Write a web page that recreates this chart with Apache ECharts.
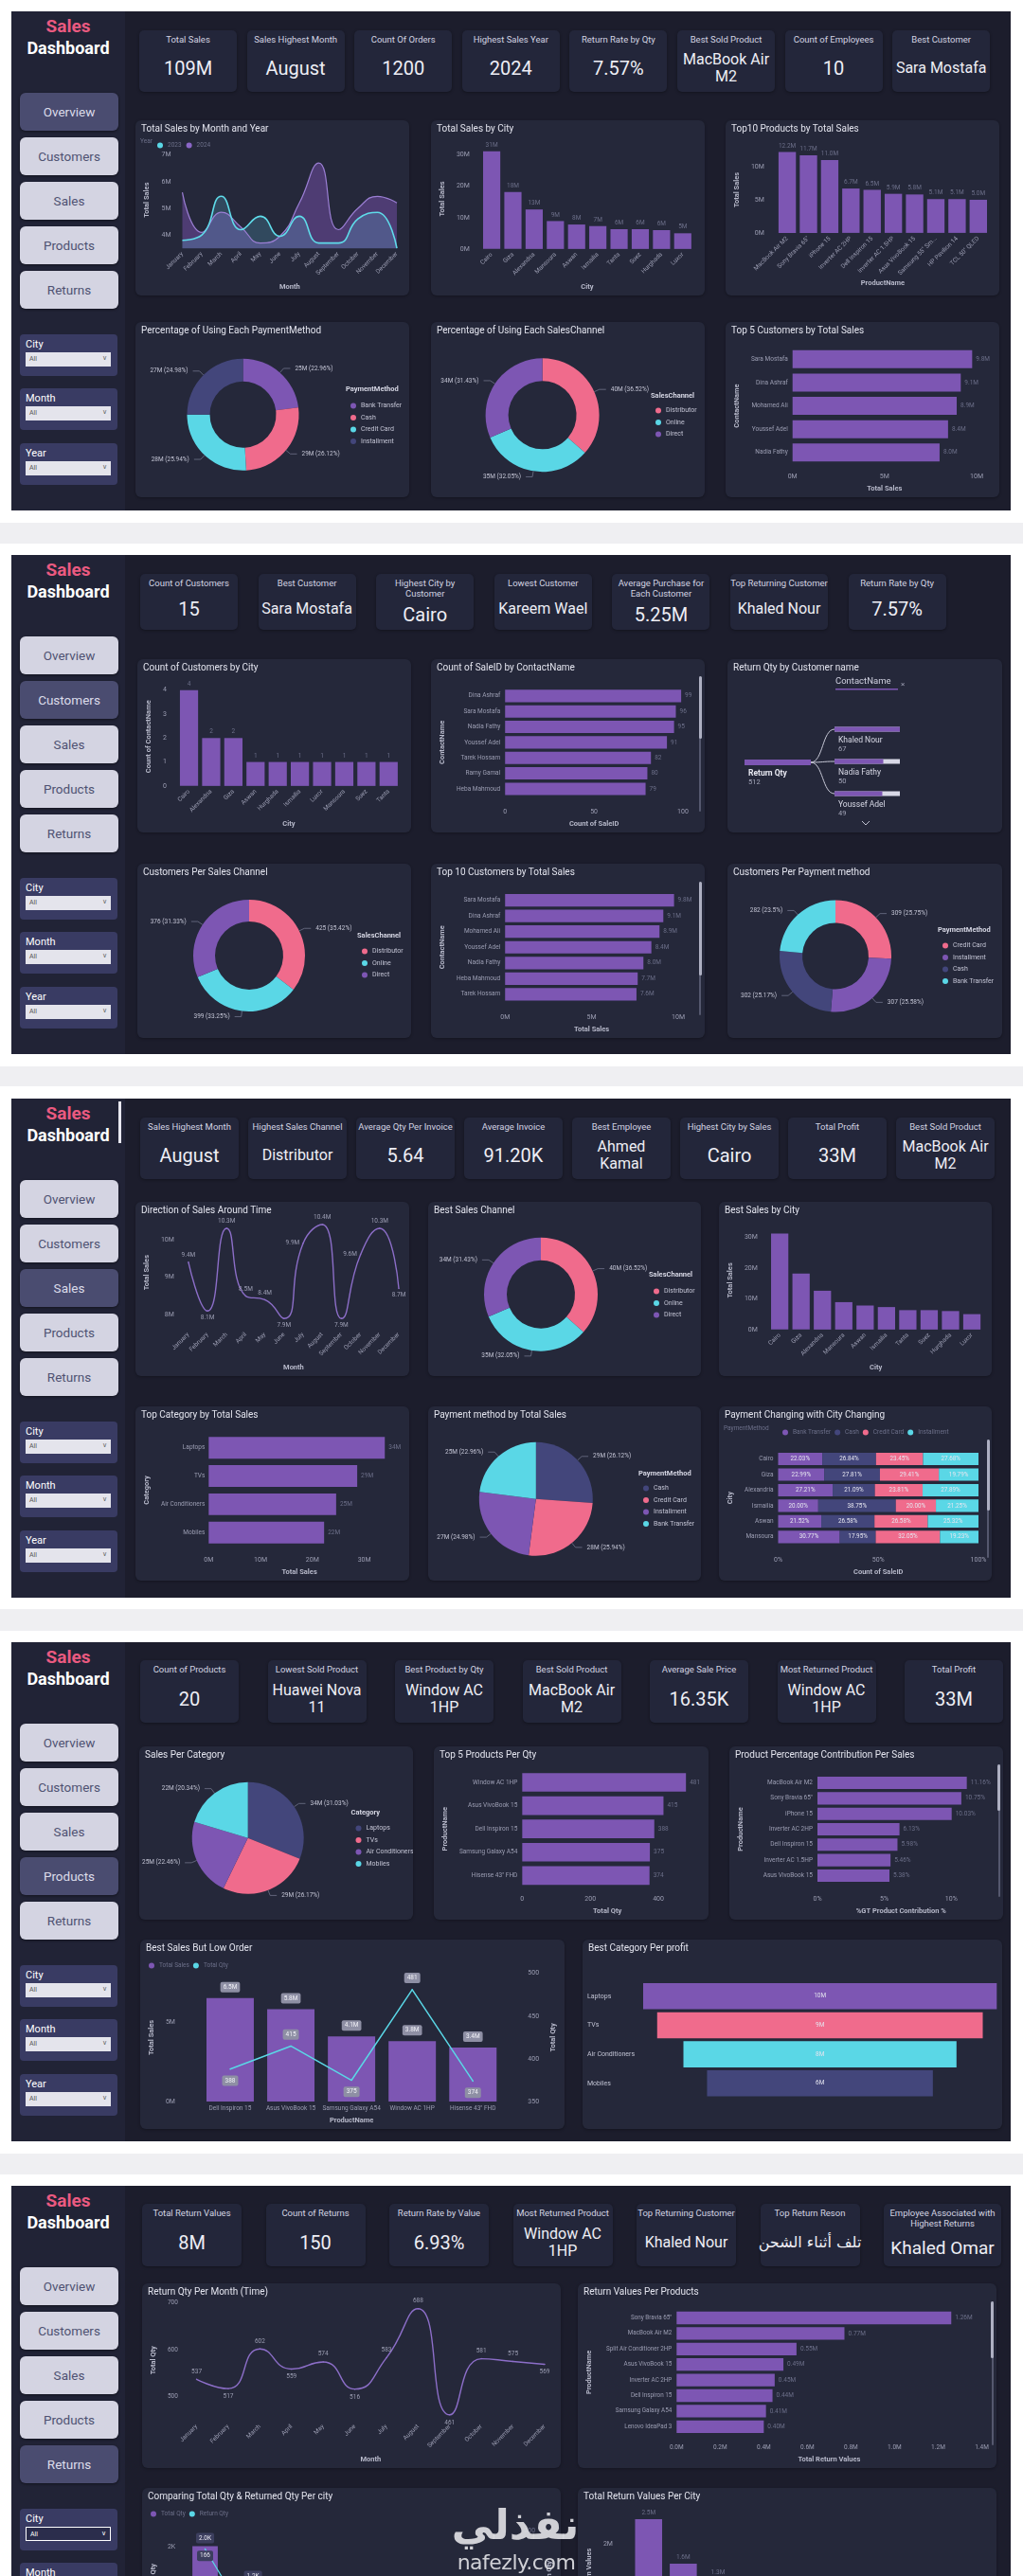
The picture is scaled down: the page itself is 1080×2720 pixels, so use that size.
<!DOCTYPE html>
<html><head><meta charset="utf-8"><title>Sales Dashboard</title>
<script src="https://cdn.jsdelivr.net/npm/echarts@6/dist/echarts.min.js"></script>
<style>
html,body{margin:0;padding:0;width:1080px;height:2720px;overflow:hidden;background:#ffffff;}
body{position:relative;font-family:Roboto,"Noto Sans","DejaVu Sans",sans-serif;}
</style></head><body>
<script>
// ================= DATA =================
const months=['January','February','March','April','May','June','July','August','September','October','November','December'];
// Overview
const sales2023=[3.8,4.0,5.45,4.2,4.7,3.95,4.7,3.7,3.7,4.6,4.85,3.5];
const sales2024=[5.6,4.1,4.85,4.3,3.7,3.95,5.2,6.7,4.2,5.0,5.45,5.2];
const cities=['Cairo','Giza','Alexandria','Mansoura','Aswan','Ismailia','Tanta','Suez','Hurghada','Luxor'];
const citySales=[31.2,18.2,12.6,8.9,7.8,7.3,6.3,6.3,6.0,5.0];
const top10Products=['MacBook Air M2','Sony Bravia 65"','iPhone 15','Inverter AC 2HP','Dell Inspiron 15','Inverter AC 1.5HP','Asus VivoBook 15','Samsung 55" Smart TV','HP Pavilion 14','TCL 50" QLED'];
const top10ProductSales=[12.2,11.7,11.0,6.7,6.5,5.9,5.8,5.1,5.1,5.0];
const paymentMethods=['Bank Transfer','Cash','Credit Card','Installment'];
const paymentSales=[25.12,28.58,28.38,27.33];
const channels=['Distributor','Online','Direct'];
const channelSales=[39.95,35.06,34.38];
const topCustomers=['Sara Mostafa','Dina Ashraf','Mohamed Ali','Youssef Adel','Nadia Fathy','Heba Mahmoud','Tarek Hossam'];
const topCustomerSales=[9.76,9.14,8.92,8.45,7.99,7.66,7.59];
// Customers
const customerCities=['Cairo','Alexandria','Giza','Aswan','Hurghada','Ismailia','Luxor','Mansoura','Suez','Tanta'];
const customersPerCity=[4,2,2,1,1,1,1,1,1,1];
const saleCountNames=['Dina Ashraf','Sara Mostafa','Nadia Fathy','Youssef Adel','Tarek Hossam','Ramy Gamal','Heba Mahmoud'];
const saleCounts=[99,96,95,91,82,80,79];
const returnTotalQty=512;
const returnCustomers=['Khaled Nour','Nadia Fathy','Youssef Adel'];
const returnCustomerQty=[67,50,49];
const channelCustomers=[425,399,376];
const paymentCustNames=['Credit Card','Installment','Cash','Bank Transfer'];
const paymentCustomers=[309,307,302,282];
// Sales
const monthlySales=[9.4,8.1,10.3,8.5,8.4,7.9,9.9,10.4,7.9,9.6,10.3,8.7];
const categories=['Laptops','TVs','Air Conditioners','Mobiles'];
const categorySales=[33.95,28.63,24.57,22.25];
const payPieNames=['Cash','Credit Card','Installment','Bank Transfer'];
const payPieSales=[28.58,28.38,27.33,25.12];
const mixCities=['Cairo','Giza','Alexandria','Ismailia','Aswan','Mansoura'];
const mixBank=[22.03,22.99,27.21,20.00,21.52,30.77];
const mixCash=[26.84,27.81,21.09,38.75,26.58,17.95];
const mixCredit=[23.45,29.41,23.81,20.00,26.58,32.05];
const mixInstall=[27.68,19.79,27.89,21.25,25.32,19.23];
// Products
const qtyProducts=['Window AC 1HP','Asus VivoBook 15','Dell Inspiron 15','Samsung Galaxy A54','Hisense 43" FHD'];
const qtyValues=[481,415,388,375,374];
const contribProducts=['MacBook Air M2','Sony Bravia 65"','iPhone 15','Inverter AC 2HP','Dell Inspiron 15','Inverter AC 1.5HP','Asus VivoBook 15'];
const contribPct=[11.16,10.75,10.03,6.13,5.98,5.46,5.38];
const lowOrderProducts=['Dell Inspiron 15','Asus VivoBook 15','Samsung Galaxy A54','Window AC 1HP','Hisense 43" FHD'];
const lowOrderSales=[6.5,5.8,4.1,3.8,3.4];
const lowOrderQty=[388,415,375,481,374];
const profitCategories=['Laptops','TVs','Air Conditioners','Mobiles'];
const profitValues=[10.1,9.3,7.8,6.45];
// Returns
const returnQtyMonthly=[537,517,602,559,574,516,583,688,461,581,575,569];
const returnProducts=['Sony Bravia 65"','MacBook Air M2','Split Air Conditioner 2HP','Asus VivoBook 15','Inverter AC 2HP','Dell Inspiron 15','Samsung Galaxy A54','Lenovo IdeaPad 3'];
const returnProductValues=[1.26,0.77,0.55,0.49,0.45,0.44,0.41,0.40];
const compareCities=['Cairo','Giza','Alexandria','Mansoura','Aswan','Ismailia','Tanta'];
const compareTotalQty=[2010,1190,860,600,520,480,410];
const compareReturnQty=[166,20,70,45,60,50,40];
const returnCityValues=[2.5,1.6,1.3,0.6,0.5,0.4,0.35,0.3,0.25,0.2];
// KPI cards
const kpi1Titles=['Total Sales','Sales Highest Month','Count Of Orders','Highest Sales Year','Return Rate by Qty','Best Sold Product','Count of Employees','Best Customer'];
const kpi1Values=['109M','August','1200','2024','7.57%','MacBook Air\nM2','10','Sara Mostafa'];
const kpi2Titles=['Count of Customers','Best Customer','Highest City by\nCustomer','Lowest Customer','Average Purchase for\nEach Customer','Top Returning Customer','Return Rate by Qty'];
const kpi2Values=['15','Sara Mostafa','Cairo','Kareem Wael','5.25M','Khaled Nour','7.57%'];
const kpi3Titles=['Sales Highest Month','Highest Sales Channel','Average Qty Per Invoice','Average Invoice','Best Employee','Highest City by Sales','Total Profit','Best Sold Product'];
const kpi3Values=['August','Distributor','5.64','91.20K','Ahmed\nKamal','Cairo','33M','MacBook Air\nM2'];
const kpi4Titles=['Count of Products','Lowest Sold Product','Best Product by Qty','Best Sold Product','Average Sale Price','Most Returned Product','Total Profit'];
const kpi4Values=['20','Huawei Nova\n11','Window AC\n1HP','MacBook Air\nM2','16.35K','Window AC\n1HP','33M'];
const kpi5Titles=['Total Return Values','Count of Returns','Return Rate by Value','Most Returned Product','Top Returning Customer','Top Return Reson','Employee Associated with\nHighest Returns'];
const kpi5Values=['8M','150','6.93%','Window AC\n1HP','Khaled Nour','تلف أثناء الشحن','Khaled Omar'];
const navLabels=['Overview','Customers','Sales','Products','Returns'];
const filterLabels=['City','Month','Year'];

// ================= STYLE / HELPERS =================
const FONT='Roboto, "Noto Sans", "DejaVu Sans", sans-serif';
const PURPLE='#7d56b3',PINK='#f06b8c',CYAN='#5ad7e6',SLATE='#43467b';
const LBL='#9c9eb3',FAINT='#6c6f89',NAMEC='#b7b9ca',LEGC='#c3c4d4';
const NTS={color:NAMEC,fontSize:7.5,fontWeight:'bold',fontFamily:FONT};
const axL=o=>Object.assign({color:LBL,fontSize:7,fontFamily:FONT},o||{});
function el(css,text,parent){const e=document.createElement('div');e.style.cssText='position:absolute;'+css;if(text!=null)e.textContent=text;(parent||document.body).appendChild(e);return e;}
function vAx(o){return Object.assign({type:'value',axisLine:{show:false},axisTick:{show:false},splitLine:{show:false},nameLocation:'middle',nameTextStyle:NTS},o);}
function cAx(o){return Object.assign({type:'category',axisLine:{show:false},axisTick:{show:false},nameLocation:'middle',nameTextStyle:NTS},o);}
function O(o){return Object.assign({animation:false,textStyle:{fontFamily:FONT}},o);}
function mk(x,y,w,h,title){
  const p=el(`left:${x}px;top:${y}px;width:${w}px;height:${h}px;background:#25283a;border-radius:6px;overflow:hidden;box-shadow:0 1px 3px rgba(0,0,0,.3);`);
  const cd=el(`left:0;top:0;width:${w}px;height:${h}px;`,null,p);
  el(`left:6px;top:3px;font:10px/12px ${FONT};color:#e3e4ee;white-space:nowrap;`,title,p);
  return {p,ch:echarts.init(cd)};
}
function scrollbar(p,x,y1,y2,yt){
  el(`left:${x}px;top:${y1}px;width:2px;height:${y2-y1}px;background:#55586e;border-radius:1px;`,null,p);
  el(`left:${x-0.5}px;top:${y1}px;width:3px;height:${yt-y1}px;background:#aeb0c2;border-radius:2px;`,null,p);
}
const pct=p=>' ('+(+p.percent.toFixed(2))+'%)';
function pieOpt(names,vals,colors,center,radius,fmt,legTitle,legLeft,legTop,titleTop){
  return O({
    color:colors,
    legend:{orient:'vertical',left:legLeft,top:legTop,icon:'circle',itemWidth:6,itemHeight:6,itemGap:5.5,
      textStyle:{color:LEGC,fontSize:7,fontFamily:FONT},data:names},
    graphic:[{type:'text',x:legLeft,y:titleTop,style:{text:legTitle,fill:'#d6d7e4',fontSize:7.5,fontWeight:'bold',fontFamily:FONT,verticalAlign:'top'}}],
    series:[{type:'pie',center:center,radius:radius,startAngle:90,clockwise:true,
      data:names.map((n,i)=>({name:n,value:vals[i]})),
      label:{color:LEGC,fontSize:6.5,fontFamily:FONT,formatter:p=>fmt(p.value)+pct(p)},
      labelLine:{length:6,length2:7,lineStyle:{color:'#70738a',width:0.8}},
      emphasis:{disabled:true}}]
  });
}
const fmtM0=v=>Math.round(v)+'M';
// tiny symbol so that line labels are drawn
function dotStyle(color){return {symbol:'circle',symbolSize:1.5,showSymbol:true,itemStyle:{color:color}};}

// ================= PAGE FRAME =================
[[552,22],[1126,21],[1699,23],[2274,22]].forEach(([y,h])=>el(`left:0;top:${y}px;width:1080px;height:${h}px;background:#efeff2;`));

function dashboard(T,active,opts){
  el(`left:12px;top:${T}px;width:1055px;height:527px;background:#1c1d2c;`);
  el(`left:12px;top:${T}px;width:120px;height:527px;background:#212336;`);
  el(`left:12px;top:${T+5}px;width:120px;text-align:center;font:bold 19px/22px ${FONT};color:#ea5a80;`,'Sales');
  el(`left:12px;top:${T+28}px;width:120px;text-align:center;font:bold 18px/22px ${FONT};color:#ffffff;`,'Dashboard');
  if(opts&&opts.bar) el(`left:125px;top:${T+3}px;width:3px;height:44px;background:#e8e8f0;`);
  navLabels.forEach((t,i)=>{const a=i===active;
    el(`left:21px;top:${T+86+i*47}px;width:104px;height:40px;border-radius:6px;background:${a?'#4a4c70':'#d4d4e2'};color:${a?'#dcdcea':'#4f5272'};font:13.5px ${FONT};display:flex;align-items:center;justify-content:center;box-shadow:0 1px 3px rgba(0,0,0,.45);`,t);});
  filterLabels.forEach((t,i)=>{const y=T+[341,398,456][i];
    const b=el(`left:21px;top:${y}px;width:103px;height:44px;background:#393b63;border-radius:4px;`);
    el(`left:6px;top:4px;font:11px/13px ${FONT};color:#ffffff;`,t,b);
    const sel=opts&&opts.selCity&&i===0;
    const d=el(`left:6px;top:19px;width:${sel?88:90}px;height:${sel?13:15}px;background:${sel?'#2b2d4c':'#e4e4ec'};${sel?'border:1px solid #ffffff;':''}`,null,b);
    el(`left:4px;top:3px;font:7px/9px ${FONT};color:${sel?'#ffffff':'#555'};`,'All',d);
    el(`right:4px;top:2px;font:7px/9px ${FONT};color:${sel?'#ffffff':'#666'};`,'\u2228',d);
  });
}
function kpis(T,g,titles,values){
  titles.forEach((t,i)=>{
    const last=i===titles.length-1;
    const x=g.x0+i*g.step,w=(last&&g.lastW)?g.lastW:g.w,y=T+g.top;
    const c=el(`left:${x}px;top:${y}px;width:${w}px;height:${g.h}px;background:#23263a;border-radius:5px;box-shadow:0 1px 3px rgba(0,0,0,.35);`);
    const tl=t.split('\n').length;
    el(`left:0;top:4px;width:${w}px;text-align:center;font:9.5px/11px ${FONT};color:#d3d4e2;white-space:pre;`,t,c);
    const v=values[i];
    const arabic=/[\u0600-\u06FF]/.test(v);
    let fs=(v.length>7||v.indexOf('\n')>=0)?16:20;
    if(v==='Khaled Omar')fs=19;
    const fam=arabic?'"DejaVu Sans", "Noto Sans", sans-serif':FONT;
    el(`left:0;top:${6+11*tl}px;width:${w}px;height:${g.h-8-11*tl}px;display:flex;align-items:center;justify-content:center;text-align:center;font:${fs}px/${fs+2}px ${fam};color:#eeeef5;white-space:pre;`,v,c);
  });
}

// ================= DASHBOARD 1 : OVERVIEW =================
dashboard(12,0);
kpis(12,{x0:147,step:113.6,w:103,top:20,h:65},kpi1Titles,kpi1Values);

let a=mk(143,127,289,185,'Total Sales by Month and Year');
a.ch.setOption(O({
  legend:{data:['2023','2024'],left:18,top:18,icon:'circle',itemWidth:6,itemHeight:6,itemGap:5,textStyle:{color:FAINT,fontSize:6.5,fontFamily:FONT}},
  graphic:[{type:'text',x:5,y:19,style:{text:'Year',fill:FAINT,fontSize:6.5,fontFamily:FONT,verticalAlign:'top'}}],
  grid:{left:46,right:13,top:33,bottom:44},
  xAxis:cAx({data:months,boundaryGap:false,axisLabel:axL({rotate:45,fontSize:6.5,margin:5}),name:'Month',nameGap:31}),
  yAxis:vAx({min:3.5,max:7.13,axisLabel:axL({customValues:[4,5,6,7],formatter:v=>v+'M',margin:12}),name:'Total Sales',nameGap:33.5}),
  series:[
    {name:'2024',type:'line',smooth:0.5,symbol:'none',data:sales2024,color:'#8a66c6',
      lineStyle:{color:'#9b7fd4',width:1.2},areaStyle:{color:'rgba(118,82,172,0.72)',origin:'start'}},
    {name:'2023',type:'line',smooth:0.5,symbol:'none',data:sales2023,color:CYAN,
      lineStyle:{color:'#5fdcea',width:1.6},areaStyle:{color:'rgba(95,190,220,0.32)',origin:'start'}}
  ]
}));

a=mk(455,127,289,185,'Total Sales by City');
a.ch.setOption(O({
  grid:{left:41,right:12,top:30,bottom:44},
  xAxis:cAx({data:cities,axisLabel:axL({rotate:45,fontSize:6.5,margin:5}),name:'City',nameGap:31}),
  yAxis:vAx({min:0,max:32,axisLabel:axL({customValues:[0,10,20,30],formatter:v=>v+'M',margin:12}),name:'Total Sales',nameGap:28.5}),
  series:[{type:'bar',data:citySales,barCategoryGap:'19%',itemStyle:{color:PURPLE},
    label:{show:true,position:'top',distance:3,color:FAINT,fontSize:6.5,formatter:p=>fmtM0(p.value)}}]
}));

a=mk(766,127,289,185,'Top10 Products by Total Sales');
a.ch.setOption(O({
  grid:{left:47,right:11,top:28,bottom:61},
  xAxis:cAx({data:top10Products,axisLabel:axL({rotate:45,fontSize:6.5,margin:5,width:58,overflow:'truncate',ellipsis:'...'}),name:'ProductName',nameGap:48}),
  yAxis:vAx({min:0,max:13,axisLabel:axL({customValues:[0,5,10],formatter:v=>v+'M',margin:13}),name:'Total Sales',nameGap:34}),
  series:[{type:'bar',data:top10ProductSales,barCategoryGap:'18%',itemStyle:{color:PURPLE},
    label:{show:true,position:'top',distance:3,color:FAINT,fontSize:6.5,formatter:p=>p.value.toFixed(1)+'M'}}]
}));

a=mk(143,340,289,185,'Percentage of Using Each PaymentMethod');
a.ch.setOption(pieOpt(paymentMethods,paymentSales,[PURPLE,PINK,CYAN,SLATE],[113.5,97.8],[35,59],fmtM0,'PaymentMethod',222,80,67));

a=mk(455,340,289,185,'Percentage of Using Each SalesChannel');
a.ch.setOption(pieOpt(channels,channelSales,[PINK,CYAN,PURPLE],[117.6,98.3],[36,60],fmtM0,'SalesChannel',232,85,74));

a=mk(766,340,289,185,'Top 5 Customers by Total Sales');
a.ch.setOption(O({
  grid:{left:62,right:24,top:27,bottom:32},
  xAxis:vAx({min:0,max:10,interval:5,axisLabel:axL({formatter:v=>v+'M',margin:10}),name:'Total Sales',nameGap:19}),
  yAxis:cAx({data:topCustomers.slice(0,5),inverse:true,axisLabel:axL({fontSize:6.5,margin:5}),name:'ContactName',nameGap:48.5}),
  series:[{type:'bar',data:topCustomerSales.slice(0,5),barCategoryGap:'23%',itemStyle:{color:PURPLE},
    label:{show:true,position:'right',distance:4,color:FAINT,fontSize:6.5,formatter:p=>p.value.toFixed(1)+'M'}}]
}));

// ================= DASHBOARD 2 : CUSTOMERS =================
dashboard(586,1);
kpis(586,{x0:148,step:124.6,w:103,top:20,h:59},kpi2Titles,kpi2Values);

a=mk(145,696,289,183,'Count of Customers by City');
a.ch.setOption(O({
  grid:{left:32,right:12,top:29.7,bottom:43.3},
  xAxis:cAx({data:customerCities,axisLabel:axL({rotate:45,fontSize:6.5,margin:5}),name:'City',nameGap:32}),
  yAxis:vAx({min:0,max:4.12,axisLabel:axL({customValues:[0,1,2,3,4],margin:12}),name:'Count of ContactName',nameGap:19.5}),
  series:[{type:'bar',data:customersPerCity,barCategoryGap:'18%',itemStyle:{color:PURPLE},
    label:{show:true,position:'top',distance:3,color:FAINT,fontSize:6.5}}]
}));

a=mk(455,696,289,183,'Count of SaleID by ContactName');
a.ch.setOption(O({
  grid:{left:69.8,right:23,top:30.7,bottom:35.7},
  xAxis:vAx({min:0,max:100,interval:50,axisLabel:axL({margin:13}),name:'Count of SaleID',nameGap:23}),
  yAxis:cAx({data:saleCountNames,inverse:true,axisLabel:axL({fontSize:6.5,margin:5}),name:'ContactName',nameGap:55}),
  series:[{type:'bar',data:saleCounts,barCategoryGap:'20%',itemStyle:{color:PURPLE},
    label:{show:true,position:'right',distance:4,color:FAINT,fontSize:6.5}}]
}));
scrollbar(a.p,283,18,161,84);

a=mk(768,696,290,183,'Return Qty by Customer name');
(function(){
  const rich={n:{color:'#d8d9e6',fontSize:8.5,fontFamily:FONT,lineHeight:10},b:{color:'#e8e9f2',fontSize:8.5,fontWeight:'bold',fontFamily:FONT,lineHeight:10},v:{color:'#a3a5b8',fontSize:7.5,fontFamily:FONT,lineHeight:9}};
  const rootEnd=[88,109], childX=113, childY=[74,108,142];
  const curves=childY.map(y=>({type:'bezierCurve',shape:{x1:rootEnd[0],y1:rootEnd[1],x2:childX,y2:y,cpx1:rootEnd[0]+13,cpy1:rootEnd[1],cpx2:childX-13,cpy2:y},style:{stroke:'#c9cad8',lineWidth:1,fill:null}}));
  a.ch.setOption(O({
    grid:[{left:18,top:106,width:70,height:6},{left:childX,top:57,width:69,height:102}],
    xAxis:[{gridIndex:0,type:'value',min:0,max:returnTotalQty,show:false},{gridIndex:1,type:'value',min:0,max:Math.max.apply(null,returnCustomerQty),show:false}],
    yAxis:[{gridIndex:0,type:'category',data:['Return Qty'],show:false},{gridIndex:1,type:'category',data:returnCustomers,inverse:true,show:false}],
    series:[
      {type:'bar',xAxisIndex:0,yAxisIndex:0,data:[returnTotalQty],barWidth:6,itemStyle:{color:PURPLE},
        label:{show:true,position:[4,10],formatter:p=>'{b|'+p.name+'}\n{v|'+p.value+'}',rich:rich}},
      {type:'bar',xAxisIndex:1,yAxisIndex:1,data:returnCustomerQty,barWidth:5,showBackground:true,backgroundStyle:{color:'#d8d8e6'},itemStyle:{color:PURPLE},
        label:{show:true,position:[4,9],formatter:p=>'{n|'+p.name+'}\n{v|'+p.value+'}',rich:rich}}
    ],
    graphic:curves.concat([
      {type:'text',x:114,y:19,style:{text:'ContactName',fill:'#d0d1e0',fontSize:9.5,fontFamily:FONT,verticalAlign:'top'}},
      {type:'rect',shape:{x:114,y:31,width:66,height:1.5},style:{fill:PURPLE}},
      {type:'text',x:183,y:23,style:{text:'\u00d7',fill:'#9a9cb0',fontSize:8,fontFamily:FONT,verticalAlign:'top'}},
      {type:'polyline',shape:{points:[[142,171],[146,175],[150,171]]},style:{stroke:'#c0c2d0',lineWidth:1,fill:null}}
    ])
  }));
})();

a=mk(145,912,289,184,'Customers Per Sales Channel');
a.ch.setOption(pieOpt(channels,channelCustomers,[PINK,CYAN,PURPLE],[118,97],[36,59],v=>v,'SalesChannel',232,84,72));

a=mk(455,912,289,184,'Top 10 Customers by Total Sales');
a.ch.setOption(O({
  grid:{left:70,right:28,top:30.4,bottom:36},
  xAxis:vAx({min:0,max:10,interval:5,axisLabel:axL({formatter:v=>v+'M',margin:13}),name:'Total Sales',nameGap:23}),
  yAxis:cAx({data:topCustomers,inverse:true,axisLabel:axL({fontSize:6.5,margin:5}),name:'ContactName',nameGap:55.5}),
  series:[{type:'bar',data:topCustomerSales,barCategoryGap:'20%',itemStyle:{color:PURPLE},
    label:{show:true,position:'right',distance:4,color:FAINT,fontSize:6.5,formatter:p=>p.value.toFixed(1)+'M'}}]
}));
scrollbar(a.p,283,18.7,159.7,118);

a=mk(768,912,290,184,'Customers Per Payment method');
a.ch.setOption(pieOpt(paymentCustNames,paymentCustomers,[PINK,PURPLE,SLATE,CYAN],[114,97.5],[35,59],v=>v,'PaymentMethod',222,78,66));

// ================= DASHBOARD 3 : SALES =================
dashboard(1160,2,{bar:true});
kpis(1160,{x0:148,step:114,w:104,top:20,h:65},kpi3Titles,kpi3Values);

a=mk(143,1269,289,184,'Direction of Sales Around Time');
const lineLabelPos3=['top','bottom','top','top','top','bottom','left','top','bottom','left','top','bottom'];
a.ch.setOption(O({
  grid:{left:47,right:11,top:18,bottom:52.4},
  xAxis:cAx({data:months,boundaryGap:false,axisLabel:axL({rotate:45,fontSize:6.5,margin:8}),name:'Month',nameGap:39.4}),
  yAxis:vAx({min:7.7,max:10.55,axisLabel:axL({customValues:[8,9,10],formatter:v=>v+'M',margin:15}),name:'Total Sales',nameGap:32.5}),
  series:[Object.assign({type:'line',smooth:0.55,lineStyle:{color:'#8c6ec8',width:1.4},
    data:monthlySales.map((v,i)=>({value:v,label:{position:lineLabelPos3[i]}})),
    label:{show:true,distance:3,color:LBL,fontSize:6.5,formatter:p=>p.value.toFixed(1)+'M'}},dotStyle('#8c6ec8'))]
}));

a=mk(452,1269,288,184,'Best Sales Channel');
a.ch.setOption(pieOpt(channels,channelSales,[PINK,CYAN,PURPLE],[119,97.7],[36,60],fmtM0,'SalesChannel',233,86,73));

a=mk(759,1269,288,184,'Best Sales by City');
a.ch.setOption(O({
  grid:{left:40.4,right:9.7,top:30.8,bottom:43.3},
  xAxis:cAx({data:cities,axisLabel:axL({rotate:45,fontSize:6.5,margin:5}),name:'City',nameGap:30.3}),
  yAxis:vAx({min:0,max:32,axisLabel:axL({customValues:[0,10,20,30],formatter:v=>v+'M',margin:12}),name:'Total Sales',nameGap:27}),
  series:[{type:'bar',data:citySales,barCategoryGap:'19%',itemStyle:{color:PURPLE}}]
}));

a=mk(143,1485,289,184,'Top Category by Total Sales');
a.ch.setOption(O({
  grid:{left:71,right:20,top:28.8,bottom:33.8},
  xAxis:vAx({min:0,max:35,axisLabel:axL({customValues:[0,10,20,30],formatter:v=>v+'M',margin:11}),name:'Total Sales',nameGap:20.8}),
  yAxis:cAx({data:categories,inverse:true,axisLabel:axL({fontSize:6.5,margin:4}),name:'Category',nameGap:56.5}),
  series:[{type:'bar',data:categorySales,barCategoryGap:'23%',itemStyle:{color:PURPLE},
    label:{show:true,position:'right',distance:4,color:FAINT,fontSize:6.5,formatter:p=>fmtM0(p.value)}}]
}));

a=mk(452,1485,288,184,'Payment method by Total Sales');
a.ch.setOption(pieOpt(payPieNames,payPieSales,[SLATE,PINK,PURPLE,CYAN],[113.8,97.8],[0,60],fmtM0,'PaymentMethod',222,78,67));

a=mk(759,1485,288,184,'Payment Changing with City Changing');
(function(){
  const lab={show:true,position:'inside',color:'#e6e6f0',fontSize:6.3,formatter:p=>p.value.toFixed(2)+'%'};
  const mk4=(name,data,color)=>({name,type:'bar',stack:'m',data,barCategoryGap:'20%',itemStyle:{color},label:lab});
  a.ch.setOption(O({
    legend:{data:paymentMethods,left:62,top:19,icon:'circle',itemWidth:6,itemHeight:6,itemGap:4,textStyle:{color:FAINT,fontSize:6.5,fontFamily:FONT}},
    graphic:[{type:'text',x:5,y:20,style:{text:'PaymentMethod',fill:FAINT,fontSize:6.5,fontFamily:FONT,verticalAlign:'top'}}],
    grid:{left:53.7,right:14,top:47.3,bottom:35.9},
    xAxis:vAx({min:0,max:100,interval:50,axisLabel:axL({formatter:v=>v+'%',margin:13}),name:'Count of SaleID',nameGap:24}),
    yAxis:cAx({data:mixCities,inverse:true,axisLabel:axL({fontSize:6.5,margin:5}),name:'City',nameGap:40}),
    series:[mk4('Bank Transfer',mixBank,PURPLE),mk4('Cash',mixCash,SLATE),mk4('Credit Card',mixCredit,PINK),mk4('Installment',mixInstall,CYAN)]
  }));
})();
scrollbar(a.p,283,35,160,110);

// ================= DASHBOARD 4 : PRODUCTS =================
dashboard(1734,3);
kpis(1734,{x0:148,step:134.5,w:104,top:19,h:66},kpi4Titles,kpi4Values);

a=mk(147,1844,289,183,'Sales Per Category');
a.ch.setOption(pieOpt(categories,categorySales,[SLATE,PINK,PURPLE,CYAN],[114.7,96.8],[0,59],fmtM0,'Category',223.5,78,66));

a=mk(458,1844,290,183,'Top 5 Products Per Qty');
a.ch.setOption(O({
  grid:{left:86,right:17,top:25.75,bottom:31.75},
  xAxis:vAx({min:0,max:500,axisLabel:axL({customValues:[0,200,400],margin:9.5}),name:'Total Qty',nameGap:19}),
  yAxis:cAx({data:qtyProducts,inverse:true,axisLabel:axL({fontSize:6.5,margin:5}),name:'ProductName',nameGap:71.5}),
  series:[{type:'bar',data:qtyValues,barCategoryGap:'20%',itemStyle:{color:PURPLE},
    label:{show:true,position:'right',distance:4,color:FAINT,fontSize:6.5}}]
}));

a=mk(770,1844,289,183,'Product Percentage Contribution Per Sales');
a.ch.setOption(O({
  grid:{left:91.6,right:19.4,top:30.4,bottom:36},
  xAxis:vAx({min:0,max:12.5,axisLabel:axL({customValues:[0,5,10],formatter:v=>v+'%',margin:13.5}),name:'%GT Product Contribution %',nameGap:23}),
  yAxis:cAx({data:contribProducts,inverse:true,axisLabel:axL({fontSize:6.5,margin:5}),name:'ProductName',nameGap:77}),
  series:[{type:'bar',data:contribPct,barCategoryGap:'20%',itemStyle:{color:PURPLE},
    label:{show:true,position:'right',distance:4,color:FAINT,fontSize:6.5,formatter:p=>p.value.toFixed(2)+'%'}}]
}));
scrollbar(a.p,283.7,18.7,159.3,67.7);

a=mk(148,2048,448,200,'Best Sales But Low Order');
(function(){
  const box={backgroundColor:'#8e8fa4',color:'#f2f2f8',padding:[2,3],borderRadius:2,fontSize:6.5,fontFamily:FONT};
  const qtyPos=['bottom','top','bottom','top','bottom'];
  a.ch.setOption(O({
    legend:{data:['Total Sales','Total Qty'],left:4,top:19,icon:'circle',itemWidth:6,itemHeight:6,itemGap:4,textStyle:{color:FAINT,fontSize:6.5,fontFamily:FONT}},
    grid:{left:50.3,right:52.5,top:35.7,bottom:24.3},
    xAxis:cAx({data:lowOrderProducts,axisLabel:axL({fontSize:6.5,margin:4,interval:0}),name:'ProductName',nameGap:12.6}),
    yAxis:[vAx({min:0,max:8.05,axisLabel:axL({customValues:[0,5],formatter:v=>v+'M',margin:26}),name:'Total Sales',nameGap:36.8}),
           vAx({min:350,max:500,interval:50,position:'right',axisLabel:axL({margin:26}),name:'Total Qty',nameGap:39.5})],
    series:[
      {name:'Total Sales',type:'bar',data:lowOrderSales,barCategoryGap:'22%',itemStyle:{color:PURPLE},
        label:Object.assign({show:true,position:'top',distance:6,formatter:p=>p.value.toFixed(1)+'M'},box)},
      Object.assign({name:'Total Qty',type:'line',yAxisIndex:1,color:CYAN,lineStyle:{color:CYAN,width:1.5},
        data:lowOrderQty.map((v,i)=>({value:v,label:{position:qtyPos[i]}})),
        label:Object.assign({show:true,distance:6},box)},dotStyle(CYAN))
    ]
  }));
})();

a=mk(615,2048,443,200,'Best Category Per profit');
(function(){
  const fmax=Math.max.apply(null,profitValues);
  a.ch.setOption(O({
    grid:{left:64,right:5.7,top:44.5,bottom:32.9},
    xAxis:{type:'value',min:0,max:fmax,show:false},
    yAxis:cAx({data:profitCategories,inverse:true,axisLabel:axL({fontSize:7,color:'#c0c2d2',align:'left',margin:59})}),
    series:[
      {type:'bar',stack:'f',silent:true,data:profitValues.map(v=>(fmax-v)/2),itemStyle:{color:'rgba(0,0,0,0)'},barCategoryGap:'10%'},
      {type:'bar',stack:'f',data:profitValues,colorBy:'data',color:[PURPLE,PINK,CYAN,SLATE],barCategoryGap:'10%',
        label:{show:true,position:'inside',color:'#e4e4ef',fontSize:6.5,formatter:p=>fmtM0(p.value)}}
    ]
  }));
})();

// ================= DASHBOARD 5 : RETURNS =================
dashboard(2308,4,{selCity:true});
kpis(2308,{x0:150,step:130.5,w:105,top:19,h:66,lastW:124},kpi5Titles,kpi5Values);

a=mk(150,2411,442,195,'Return Qty Per Month (Time)');
const lineLabelPos5=['top','bottom','top','bottom','top','bottom','top','top','bottom','top','top','bottom'];
a.ch.setOption(O({
  grid:{left:47.7,right:17,top:18.4,bottom:44},
  xAxis:cAx({data:months,boundaryGap:false,axisLabel:axL({rotate:45,fontSize:6.5,margin:6}),name:'Month',nameGap:31.3}),
  yAxis:vAx({min:450,max:705,axisLabel:axL({customValues:[500,600,700],fontSize:6.5,margin:19.7}),name:'Total Qty',nameGap:33}),
  series:[Object.assign({type:'line',smooth:0.55,lineStyle:{color:'#8c6ec8',width:1.4},
    data:returnQtyMonthly.map((v,i)=>({value:v,label:{position:lineLabelPos5[i]}})),
    label:{show:true,distance:4,color:LBL,fontSize:6.5}},dotStyle('#8c6ec8'))]
}));

a=mk(610,2411,442,195,'Return Values Per Products');
a.ch.setOption(O({
  grid:{left:102.8,right:15.5,top:28.3,bottom:32.9},
  xAxis:vAx({min:0,max:1.4,interval:0.2,axisLabel:axL({fontSize:6.5,formatter:v=>v.toFixed(1)+'M',margin:10.6}),name:'Total Return Values',nameGap:20.2}),
  yAxis:cAx({data:returnProducts,inverse:true,axisLabel:axL({fontSize:6.3,margin:5}),name:'ProductName',nameGap:88.3}),
  series:[{type:'bar',data:returnProductValues,barCategoryGap:'19%',itemStyle:{color:PURPLE},
    label:{show:true,position:'right',distance:4,color:FAINT,fontSize:6.5,formatter:p=>p.value.toFixed(2)+'M'}}]
}));
scrollbar(a.p,436.8,19,170.7,79);

a=mk(150,2627,442,200,'Comparing Total Qty & Returned Qty Per city');
(function(){
  const box={backgroundColor:'#3c3e5e',color:'#e6e6f0',padding:[2,3],borderRadius:2,fontSize:6.5,fontFamily:FONT};
  a.ch.setOption(O({
    legend:{data:['Total Qty','Return Qty'],left:4,top:19,icon:'circle',itemWidth:6,itemHeight:6,itemGap:4,textStyle:{color:FAINT,fontSize:6.5,fontFamily:FONT}},
    grid:{left:30,right:32,top:30,bottom:40},
    xAxis:cAx({data:compareCities,axisLabel:axL({fontSize:6.5,margin:5,interval:0}),name:'City',nameGap:16}),
    yAxis:[vAx({min:0,max:2650,axisLabel:axL({customValues:[0,1000,2000],formatter:v=>(v/1000)+'K',margin:6}),name:'Total Qty',nameGap:18}),
           vAx({min:0,max:226,position:'right',axisLabel:axL({customValues:[0,100,200],color:FAINT,margin:8}),name:'Return Qty',nameGap:22})],
    series:[
      {name:'Total Qty',type:'bar',data:compareTotalQty,barCategoryGap:'47%',itemStyle:{color:PURPLE},
        label:Object.assign({show:true,position:'top',distance:3,formatter:p=>(p.value/1000).toFixed(1)+'K'},box)},
      Object.assign({name:'Return Qty',type:'line',yAxisIndex:1,color:CYAN,lineStyle:{color:CYAN,width:1.3},data:compareReturnQty,
        label:Object.assign({show:true,position:'bottom',distance:1},box)},dotStyle(CYAN))
    ]
  }));
})();

a=mk(610,2627,442,200,'Total Return Values Per City');
a.ch.setOption(O({
  grid:{left:43.5,right:19.5,top:30,bottom:37},
  xAxis:cAx({data:cities,axisLabel:axL({rotate:45,fontSize:6.5,margin:5})}),
  yAxis:vAx({min:0,max:2.56,axisLabel:axL({customValues:[0,1,2],formatter:v=>v+'M',margin:19.5}),name:'Total Return Values',nameGap:29}),
  series:[{type:'bar',data:returnCityValues,barCategoryGap:'22%',itemStyle:{color:PURPLE},
    label:{show:true,position:'top',distance:3,color:FAINT,fontSize:6.5,formatter:p=>p.value.toFixed(1)+'M'}}]
}));

// watermark
el(`left:474px;top:2641px;width:140px;text-align:center;font:bold 44px/50px "DejaVu Sans", sans-serif;color:rgba(222,222,226,0.93);`,'نفذلي');
el(`left:470px;top:2694px;width:150px;text-align:center;font:22px/24px "DejaVu Sans", sans-serif;color:rgba(222,222,226,0.93);letter-spacing:-0.5px;`,'nafezly.com');
</script>
</body></html>
